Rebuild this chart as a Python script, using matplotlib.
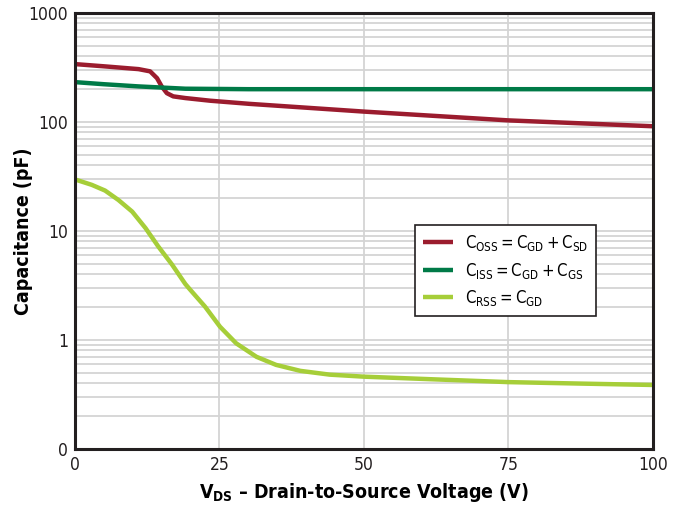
import matplotlib.pyplot as plt
import numpy as np
from matplotlib.ticker import FixedLocator, LogLocator, NullFormatter

plt.rcParams['font.family'] = ['DejaVu Sans']
plt.rcParams['font.stretch'] = 'condensed'
plt.rcParams['mathtext.fontset'] = 'custom'
plt.rcParams['mathtext.rm'] = 'DejaVu Sans:stretch=condensed'
plt.rcParams['mathtext.bf'] = 'DejaVu Sans:bold:stretch=condensed'

# valeurs
v_oss = [0, 5.2, 11.0, 13.0, 14.2, 15.0, 15.9, 17.0, 19.1, 23.4, 30.2, 50, 75, 100]
c_oss = [338, 322, 304, 290, 251, 211, 183, 171, 165, 156, 146, 124, 103, 91]

v_iss = [0, 5, 11, 19.1, 30, 50, 75, 100]
c_iss = [231, 221, 211, 201, 199, 199, 199, 199]

v_rss = [0, 2.9, 5.2, 7.5, 9.9, 12.2, 14.4, 16.8, 19.1, 19.9, 22.5, 25.1, 27.9, 31.4,
         34.8, 39.0, 44.1, 50, 62, 75, 88, 100]
c_rss = [29.6, 26.4, 23.4, 19.2, 15.0, 10.6, 7.2, 4.9, 3.25, 2.9, 2.02, 1.32, 0.93, 0.70,
         0.59, 0.52, 0.48, 0.46, 0.435, 0.41, 0.397, 0.386]

ytick_vals = [0.1, 1, 10, 100, 1000]
ytick_labels = ['0', '1', '10', '100', '1000']
xtick_vals = [0, 25, 50, 75, 100]

fig = plt.figure(figsize=(6.82, 5.09), dpi=100)
ax = fig.add_axes([0.110, 0.118, 0.847, 0.857])

ax.set_yscale('log')
ax.set_ylim(0.1, 1000)
ax.set_xlim(0, 100)

ax.yaxis.set_major_locator(FixedLocator(ytick_vals))
ax.set_yticklabels(ytick_labels)
ax.yaxis.set_minor_locator(LogLocator(base=10, subs=np.arange(2, 10)))
ax.yaxis.set_minor_formatter(NullFormatter())
ax.set_xticks(xtick_vals)

ax.grid(True, which='both', axis='y', color='#d4d4d4', lw=1.3)
ax.grid(True, which='major', axis='x', color='#d4d4d4', lw=1.3)
ax.set_axisbelow(True)

ax.plot(v_oss, c_oss, color='#9b1c2e', lw=3.2, solid_capstyle='butt',
        solid_joinstyle='round', label=r'$\mathrm{C_{OSS} = C_{GD} + C_{SD}}$')
ax.plot(v_iss, c_iss, color='#007a47', lw=3.2, solid_capstyle='butt',
        solid_joinstyle='round', label=r'$\mathrm{C_{ISS} = C_{GD} + C_{GS}}$')
ax.plot(v_rss, c_rss, color='#a6ce39', lw=3.2, solid_capstyle='butt',
        solid_joinstyle='round', label=r'$\mathrm{C_{RSS} = C_{GD}}$')

for s in ax.spines.values():
    s.set_color('#231f20')
    s.set_linewidth(2.2)

ax.tick_params(which='both', length=0, labelsize=12.5, colors='#231f20', pad=5)

ax.set_ylabel('Capacitance (pF)', fontsize=14, fontweight='bold')
ax.yaxis.set_label_coords(-0.072, 0.5)
ax.set_xlabel(r'V$_{\mathbf{DS}}$ – Drain-to-Source Voltage (V)', fontsize=14,
              fontweight='bold', labelpad=5)

leg = ax.legend(loc='upper left', bbox_to_anchor=(0.588, 0.514), borderaxespad=0,
                fontsize=12, fancybox=False, framealpha=1, edgecolor='#231f20',
                handlelength=1.8, handletextpad=0.7, borderpad=0.5,
                labelspacing=0.45)
leg.get_frame().set_linewidth(1.2)

fig.savefig('out.png', dpi=100)
